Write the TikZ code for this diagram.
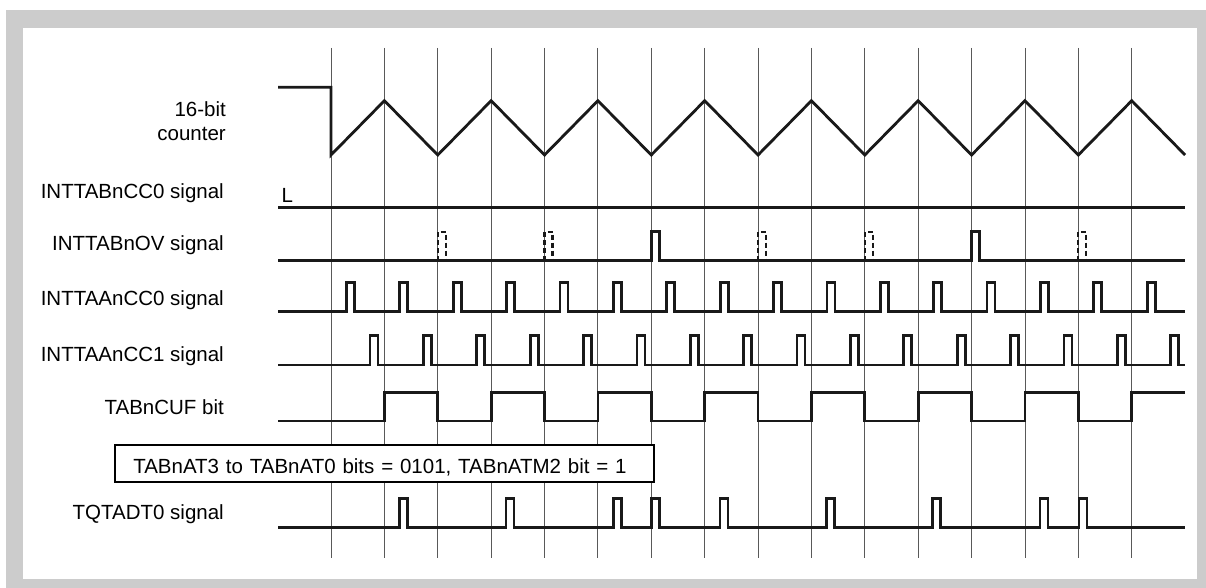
\documentclass[tikz,border=0pt]{standalone}
\usepackage{fontspec}
\setmainfont{Liberation Sans}
\usepackage{tikz}
\definecolor{framegray}{RGB}{204,204,204}

\begin{document}
\begin{tikzpicture}[x=1pt, y=-1pt,
    font=\fontsize{20.5}{24}\selectfont,
    sig/.style={line width=2.8pt, line join=miter, black!90},
    gridln/.style={line width=0.9pt, black!65},
    ghost/.style={line width=2.2pt, black!90, dash pattern=on 5pt off 3pt},
    lbl/.style={anchor=base east, inner sep=0pt, align=right},
    setbox/.style={draw, line width=2pt, fill=white, anchor=north west,
        inner xsep=18pt, inner ysep=0pt, text width=503pt,
        text height=20pt, text depth=0pt, minimum height=36.7pt}]
% frame
\useasboundingbox (0,0) rectangle (1206,588);
\fill[white] (0,0) rectangle (1206,588);
\fill[framegray] (6,10) rectangle (1206,588);
\fill[white] (23,28) rectangle (1197,579);
% time grid
\foreach \i in {0,...,15}
  \draw[gridln] ({331+53.38*\i},48) -- ({331+53.38*\i},558);
% labels
\node[lbl, anchor=east] (cnt) at (226,121.2) {16-bit\\counter};
\node[lbl] (cc0) at (224,198.3) {INTTABnCC0 signal};
\node[lbl] (ov) at (224,250.7) {INTTABnOV signal};
\node[lbl] (acc0) at (224,305) {INTTAAnCC0 signal};
\node[lbl] (acc1) at (224,361.7) {INTTAAnCC1 signal};
\node[lbl] (cuf) at (224,414) {TABnCUF bit};
\node[lbl] (dt0) at (224,519.5) {TQTADT0 signal};
\node[setbox] (cfg) at (114.3,444.3) {TABnAT3 to TABnAT0 bits = 0101, TABnATM2 bit = 1};
% 16-bit counter
\draw[sig] (278,87.3) -- (331,87.3) -- (331,155)
  \foreach \i in {1,3,...,15}{ -- ({331+53.38*\i},100.7) -- ({331+53.38*(\i+1)},155) };
% INTTABnCC0
\node[anchor=base west, inner sep=0pt] (lev) at (281.5,202.3) {L};
\draw[sig] (278,207.7) -- (1185,207.7);
% INTTABnOV
\draw[sig] (278,260.7) -- (651.3,260.7) -- ++(0,-29) -- ++(8.5,0) -- ++(0,29)
  -- (971.3,260.7) -- ++(0,-29) -- ++(8.5,0) -- ++(0,29) -- (1185,260.7);
\foreach \i in {2,4,8,10,14}
  \draw[ghost] ({331+53.38*\i},260.7) -- ++(0,-29) -- ++(8,0) -- ++(0,29);
% INTTAAnCC0
\draw[sig] (278,311.7)
  \foreach \i in {0,...,15}{ -- ({346.5+53.38*\i},311.7) -- ++(0,-29.4) -- ++(8,0) -- ++(0,29.4) }
  -- (1185,311.7);
% INTTAAnCC1
\draw[sig] (278,365)
  \foreach \i in {0,...,15}{ -- ({370+53.38*\i},365) -- ++(0,-29.3) -- ++(8,0) -- ++(0,29.3) }
  -- (1185,365);
% TABnCUF
\draw[sig] (278,421)
  \foreach \i in {1,3,...,13}{ -- ({331+53.38*\i},421) -- ++(0,-28.7)
    -- ({331+53.38*(\i+1)},392.3) -- ++(0,28.7) }
  -- (1131.7,421) -- (1131.7,392.3) -- (1185,392.3);
% TQTADT0
\draw[sig] (278,527.3)
  \foreach \p in {399.7,506,613.3,651.7,720,826.3,932.7,1040,1079}{ -- (\p,527.3) -- ++(0,-29) -- ++(8,0) -- ++(0,29) }
  -- (1185,527.3);
\end{tikzpicture}
\end{document}
